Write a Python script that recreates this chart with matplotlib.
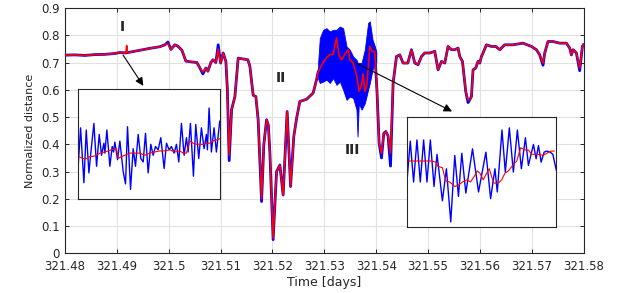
import numpy as np
import matplotlib.pyplot as plt

# main trace (time in days, normalized distance)
t_main = [
    321.48000, 321.48193, 321.48385, 321.48578, 321.48771, 321.48963, 321.49060, 321.49175, 321.49189, 321.49200,
    321.49252, 321.49445, 321.49638, 321.49830, 321.49927, 321.49985, 321.50042, 321.50119, 321.50177, 321.50254,
    321.50331, 321.50447, 321.50543, 321.50601, 321.50659, 321.50717, 321.50755, 321.50813, 321.50852, 321.50909,
    321.50954, 321.51000, 321.51050, 321.51102, 321.51131, 321.51166, 321.51212, 321.51276, 321.51339, 321.51468,
    321.51526, 321.51565, 321.51628, 321.51680, 321.51724, 321.51790, 321.51834, 321.51886, 321.51921, 321.51950,
    321.52013, 321.52079, 321.52143, 321.52206, 321.52283, 321.52349, 321.52412, 321.52470, 321.52528, 321.52657,
    321.52784, 321.52850, 321.52881, 321.52946, 321.53010, 321.53106, 321.53170, 321.53235, 321.53285, 321.53331,
    321.53395, 321.53459, 321.53491, 321.53555, 321.53620, 321.53671, 321.53717, 321.53748, 321.53780, 321.53813,
    321.53844, 321.53877, 321.53929, 321.53973, 321.54017, 321.54056, 321.54102, 321.54146, 321.54185, 321.54229,
    321.54276, 321.54326, 321.54391, 321.54455, 321.54518, 321.54609, 321.54680, 321.54744, 321.54807, 321.54873,
    321.54936, 321.55033, 321.55129, 321.55193, 321.55258, 321.55322, 321.55385, 321.55451, 321.55514, 321.55578,
    321.55611, 321.55663, 321.55688, 321.55726, 321.55771, 321.55803, 321.55836, 321.55867, 321.55919, 321.55963,
    321.55996, 321.56029, 321.56060, 321.56125, 321.56222, 321.56304, 321.56382, 321.56478, 321.56638, 321.56728,
    321.56830, 321.56992, 321.57089, 321.57152, 321.57216, 321.57249, 321.57312, 321.57408, 321.57538, 321.57667,
    321.57730, 321.57763, 321.57794, 321.57859, 321.57923, 321.57975, 321.57994]

red_main = [
    0.727, 0.728, 0.726, 0.729, 0.730, 0.733, 0.737, 0.735, 0.762, 0.736,
    0.738, 0.745, 0.752, 0.758, 0.765, 0.770, 0.748, 0.765, 0.760, 0.745,
    0.705, 0.702, 0.700, 0.680, 0.665, 0.680, 0.668, 0.700, 0.710, 0.700,
    0.750, 0.698, 0.735, 0.704, 0.600, 0.360, 0.527, 0.575, 0.716, 0.712,
    0.710, 0.686, 0.580, 0.575, 0.490, 0.200, 0.400, 0.490, 0.470, 0.370,
    0.055, 0.300, 0.324, 0.214, 0.520, 0.245, 0.430, 0.500, 0.557, 0.565,
    0.588, 0.637, 0.665, 0.690, 0.710, 0.730, 0.730, 0.790, 0.725, 0.710,
    0.730, 0.747, 0.710, 0.698, 0.655, 0.594, 0.618, 0.660, 0.594, 0.610,
    0.673, 0.759, 0.740, 0.740, 0.588, 0.404, 0.367, 0.440, 0.447, 0.430,
    0.367, 0.625, 0.722, 0.728, 0.698, 0.698, 0.747, 0.698, 0.692, 0.722,
    0.735, 0.735, 0.741, 0.673, 0.704, 0.698, 0.759, 0.747, 0.747, 0.753,
    0.722, 0.704, 0.661, 0.594, 0.563, 0.563, 0.575, 0.673, 0.680, 0.704,
    0.698, 0.722, 0.735, 0.765, 0.759, 0.759, 0.747, 0.765, 0.765, 0.768,
    0.771, 0.759, 0.747, 0.728, 0.698, 0.735, 0.777, 0.777, 0.771, 0.771,
    0.753, 0.728, 0.747, 0.735, 0.680, 0.759, 0.765]

blue_main = [
    0.727, 0.728, 0.726, 0.729, 0.730, 0.733, 0.737, 0.735, 0.738, 0.736,
    0.738, 0.745, 0.752, 0.758, 0.765, 0.775, 0.748, 0.765, 0.760, 0.745,
    0.705, 0.702, 0.700, 0.680, 0.658, 0.680, 0.668, 0.700, 0.710, 0.700,
    0.765, 0.698, 0.735, 0.704, 0.600, 0.340, 0.527, 0.575, 0.716, 0.712,
    0.710, 0.686, 0.580, 0.575, 0.490, 0.190, 0.400, 0.490, 0.470, 0.370,
    0.050, 0.300, 0.324, 0.214, 0.520, 0.245, 0.430, 0.500, 0.557, 0.565,
    0.588, 0.637, 0.665, 0.690, 0.710, 0.730, 0.730, 0.790, 0.725, 0.710,
    0.730, 0.747, 0.710, 0.698, 0.655, 0.594, 0.618, 0.660, 0.594, 0.610,
    0.673, 0.759, 0.740, 0.740, 0.588, 0.404, 0.350, 0.440, 0.447, 0.430,
    0.320, 0.625, 0.722, 0.728, 0.698, 0.698, 0.747, 0.698, 0.692, 0.722,
    0.735, 0.735, 0.741, 0.673, 0.704, 0.698, 0.759, 0.747, 0.747, 0.753,
    0.722, 0.704, 0.661, 0.594, 0.553, 0.563, 0.575, 0.673, 0.680, 0.704,
    0.698, 0.722, 0.735, 0.765, 0.759, 0.759, 0.747, 0.765, 0.765, 0.768,
    0.771, 0.759, 0.747, 0.728, 0.690, 0.735, 0.777, 0.777, 0.771, 0.771,
    0.753, 0.728, 0.747, 0.735, 0.670, 0.759, 0.765]

# fast oscillation band (envelope of the blue signal)
t_band = [321.52881, 321.52913, 321.52977, 321.53042, 321.53106, 321.53170, 321.53235, 321.53299,
          321.53362, 321.53428, 321.53491, 321.53555, 321.53620, 321.53640, 321.53665, 321.53717,
          321.53780, 321.53844, 321.53877, 321.53929, 321.53973, 321.54002]
band_hi = [0.700, 0.790, 0.820, 0.826, 0.814, 0.820, 0.820, 0.832, 0.826, 0.759, 0.747,
           0.722, 0.710, 0.700, 0.698, 0.698, 0.747, 0.845, 0.851, 0.784, 0.760, 0.740]
band_lo = [0.640, 0.625, 0.630, 0.637, 0.625, 0.643, 0.618, 0.630, 0.600, 0.563, 0.575,
           0.570, 0.527, 0.428, 0.550, 0.527, 0.550, 0.600, 0.625, 0.673, 0.700, 0.700]

# inset I (zoom of region I, relative scale)
ins1_n = [10, 17, 27, 34, 42, 48, 57, 65, 73, 80, 87, 90, 96, 105, 112, 116, 120, 128, 135, 145,
          152, 158, 167, 175, 182, 190, 198, 205, 212, 220, 228, 235, 242, 250, 258, 268, 275, 283, 290, 298,
          305, 312, 320, 328, 335, 340, 347, 356, 363, 372, 380, 388, 395, 398, 403, 410, 418, 425, 435]
ins1_blue = [0.31, 0.65, 0.15, 0.63, 0.24, 0.43, 0.69, 0.30, 0.59, 0.40, 0.51, 0.42, 0.63, 0.30, 0.48, 0.43, 0.52, 0.36, 0.53, 0.25,
             0.14, 0.66, 0.09, 0.46, 0.30, 0.59, 0.37, 0.34, 0.60, 0.24, 0.50, 0.40, 0.48, 0.45, 0.56, 0.28, 0.51, 0.45, 0.48, 0.42,
             0.50, 0.34, 0.69, 0.40, 0.56, 0.43, 0.69, 0.21, 0.68, 0.37, 0.65, 0.46, 0.59, 0.45, 0.83, 0.43, 0.65, 0.43, 0.71]
ins1_rn = [10, 25, 35, 45, 55, 65, 75, 90, 100, 110, 125, 130, 140, 150, 165, 180, 195, 210, 225, 240,
           255, 270, 285, 300, 315, 325, 335, 345, 355, 365, 375, 385, 395, 405, 415, 425, 435]
ins1_red = [0.39, 0.37, 0.37, 0.39, 0.39, 0.40, 0.42, 0.43, 0.44, 0.45, 0.46, 0.37, 0.39, 0.40, 0.42, 0.42, 0.42, 0.40, 0.42, 0.43,
            0.44, 0.44, 0.45, 0.43, 0.44, 0.42, 0.42, 0.53, 0.51, 0.50, 0.50, 0.50, 0.51, 0.51, 0.53, 0.54, 0.55]

# inset III (zoom of region III, relative scale)
ins3_n = [22, 32, 42, 52, 62, 72, 82, 92, 103, 112, 128, 140, 153, 165, 176, 186, 198, 218, 236, 258,
          272, 285, 292, 306, 316, 328, 340, 352, 364, 376, 385, 400, 408, 415, 423, 432, 440, 450, 458, 468]
ins3_blue = [0.41, 0.78, 0.41, 0.79, 0.41, 0.79, 0.41, 0.79, 0.37, 0.66, 0.24, 0.53, 0.05, 0.65, 0.28, 0.67, 0.31, 0.71, 0.32, 0.68,
             0.26, 0.53, 0.32, 0.88, 0.50, 0.90, 0.50, 0.88, 0.53, 0.81, 0.56, 0.75, 0.62, 0.74, 0.59, 0.68, 0.69, 0.68, 0.66, 0.52]
ins3_rn = [22, 35, 50, 65, 80, 95, 108, 115, 128, 138, 150, 165, 175, 188, 200, 212, 225, 232, 240, 250,
           262, 268, 275, 282, 295, 305, 315, 325, 338, 350, 362, 375, 385, 395, 410, 420, 428, 440, 452, 462]
ins3_red = [0.60, 0.60, 0.60, 0.60, 0.60, 0.60, 0.59, 0.55, 0.54, 0.42, 0.41, 0.37, 0.38, 0.41, 0.43, 0.41, 0.47, 0.51, 0.49, 0.43,
            0.50, 0.53, 0.46, 0.40, 0.40, 0.43, 0.49, 0.51, 0.56, 0.60, 0.72, 0.70, 0.70, 0.66, 0.66, 0.66, 0.65, 0.67, 0.69, 0.69]

xticks = [321.48, 321.49, 321.50, 321.51, 321.52, 321.53, 321.54, 321.55, 321.56, 321.57, 321.58]
xticklabels = ['321.48', '321.49', '321.5', '321.51', '321.52', '321.53', '321.54', '321.55', '321.56', '321.57', '321.58']
yticks = [0, 0.1, 0.2, 0.3, 0.4, 0.5, 0.6, 0.7, 0.8, 0.9]
yticklabels = ['0', '0.1', '0.2', '0.3', '0.4', '0.5', '0.6', '0.7', '0.8', '0.9']

plt.rcParams['font.family'] = 'DejaVu Sans'
fig = plt.figure(figsize=(6.26, 2.93), dpi=100)
ax = fig.add_axes([0.1038, 0.1355, 0.8286, 0.8372])

ax.fill_between(t_band, band_lo, band_hi, color='blue', lw=0.6, zorder=2)
ax.plot(t_main, blue_main, color='blue', lw=2.0, zorder=2)
ax.plot(t_main, red_main, color='red', lw=1.2, zorder=3)

ax.set_xlim(321.48, 321.58)
ax.set_ylim(0, 0.9)
ax.set_xticks(xticks)
ax.set_xticklabels(xticklabels)
ax.set_yticks(yticks)
ax.set_yticklabels(yticklabels)
ax.tick_params(direction='in', length=3, width=0.7, top=True, right=True, labelsize=8.5, colors='#262626')
ax.tick_params(axis='x', pad=5)
ax.tick_params(axis='y', pad=4)
ax.grid(True, color='#e1e1e1', lw=0.8)
ax.set_axisbelow(True)
for s in ax.spines.values():
    s.set_color('#262626')
    s.set_linewidth(0.8)
ax.set_xlabel('Time [days]', fontsize=9, color='#262626', labelpad=2)
ax.set_ylabel('Normalized distance', fontsize=8, color='#262626', labelpad=4)

ax.text(321.4910, 0.831, 'I', fontsize=10, fontweight='bold', ha='center', va='center', color='#262626')
ax.text(321.5216, 0.644, 'II', fontsize=10, fontweight='bold', ha='center', va='center', color='#262626')
ax.text(321.5355, 0.38, 'III', fontsize=10, fontweight='bold', ha='center', va='center', color='#262626')

ax.annotate('', xy=(321.4954, 0.606), xytext=(321.4909, 0.736),
            arrowprops=dict(arrowstyle='-|>', color='black', lw=0.8, mutation_scale=12), zorder=5)
ax.annotate('', xy=(321.5551, 0.516), xytext=(321.5355, 0.704),
            arrowprops=dict(arrowstyle='-|>', color='black', lw=0.8, mutation_scale=12), zorder=5)

# insets
ins1 = fig.add_axes([0.125, 0.320, 0.226, 0.375])
ins1.plot(ins1_n, ins1_blue, color='blue', lw=1.0)
ins1.plot(ins1_rn, ins1_red, color='red', lw=0.8)
ins1.set_xlim(10, 435)
ins1.set_ylim(0, 1)

ins3 = fig.add_axes([0.650, 0.224, 0.2385, 0.3775])
ins3.plot(ins3_n, ins3_blue, color='blue', lw=1.0)
ins3.plot(ins3_rn, ins3_red, color='red', lw=0.8)
ins3.set_xlim(22, 468)
ins3.set_ylim(0, 1)

for a in (ins1, ins3):
    a.set_xticks([])
    a.set_yticks([])
    for s in a.spines.values():
        s.set_color('#262626')
        s.set_linewidth(0.8)

fig.savefig('out.png', dpi=100)
